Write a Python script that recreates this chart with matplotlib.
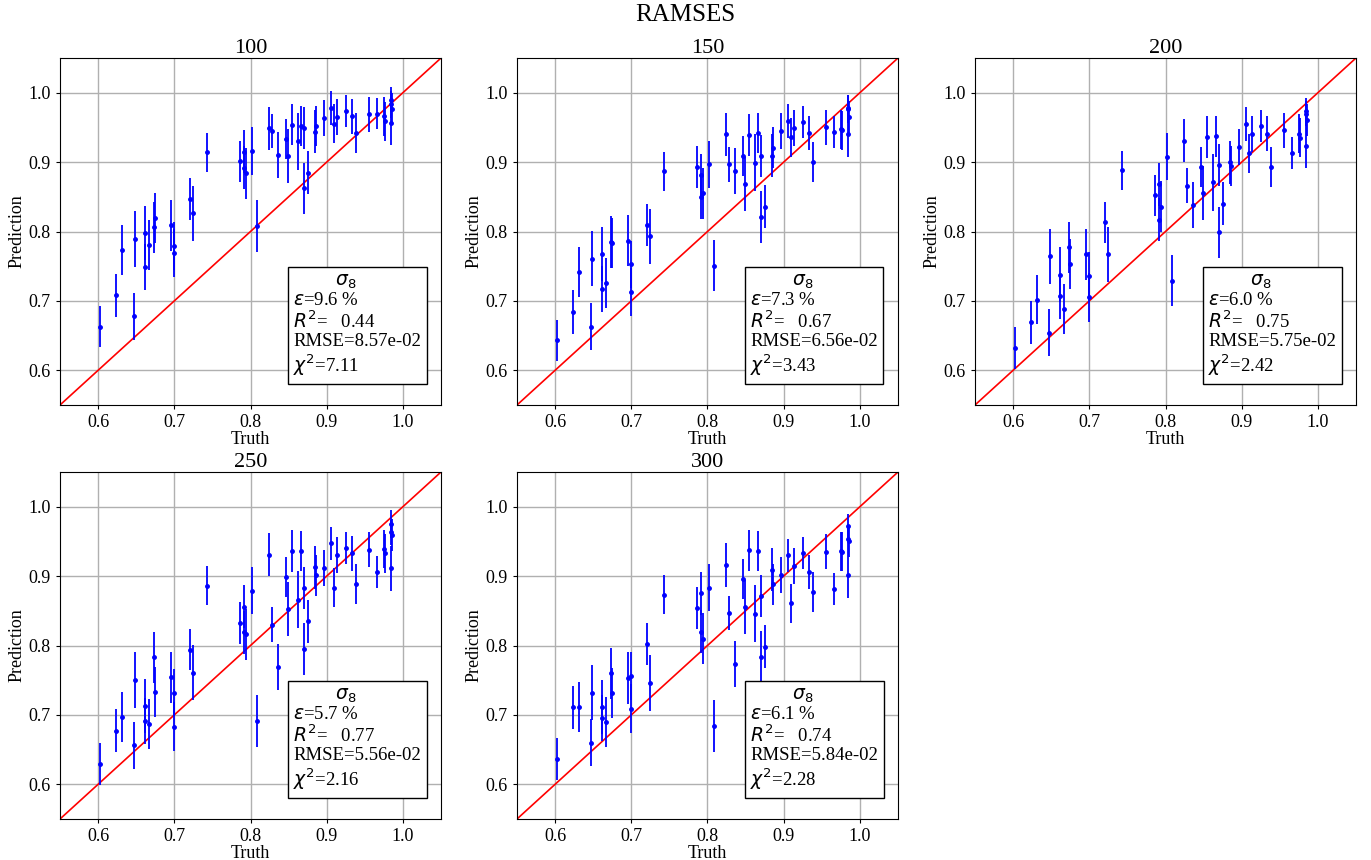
import matplotlib
matplotlib.use("Agg")
import matplotlib.pyplot as plt

plt.rcParams['font.family'] = ['Liberation Serif', 'DejaVu Serif']
plt.rcParams['mathtext.fontset'] = 'dejavusans'

suptitle = "RAMSES"
panel_titles = ["100", "150", "200", "250", "300"]

truth = [0.602, 0.623, 0.631, 0.647, 0.648, 0.662, 0.662, 0.667, 0.673, 0.675,
         0.696, 0.699, 0.700, 0.720, 0.724, 0.743, 0.786, 0.791, 0.791, 0.794,
         0.802, 0.809, 0.824, 0.828, 0.836, 0.847, 0.849, 0.854, 0.862, 0.866,
         0.870, 0.870, 0.875, 0.884, 0.886, 0.897, 0.905, 0.910, 0.913, 0.925,
         0.933, 0.939, 0.956, 0.966, 0.975, 0.976, 0.984, 0.985, 0.985, 0.986]

pred_100 = [0.663, 0.708, 0.774, 0.678, 0.789, 0.798, 0.749, 0.781, 0.806, 0.820,
            0.809, 0.779, 0.769, 0.847, 0.826, 0.914, 0.901, 0.915, 0.892, 0.884,
            0.916, 0.808, 0.949, 0.945, 0.910, 0.933, 0.909, 0.954, 0.930, 0.952,
            0.949, 0.862, 0.885, 0.944, 0.952, 0.964, 0.978, 0.955, 0.965, 0.973,
            0.966, 0.942, 0.969, 0.970, 0.966, 0.959, 0.990, 0.957, 0.983, 0.977]

pred_150 = [0.643, 0.684, 0.742, 0.663, 0.761, 0.768, 0.717, 0.726, 0.785, 0.784,
            0.787, 0.753, 0.713, 0.809, 0.793, 0.887, 0.893, 0.881, 0.849, 0.855,
            0.897, 0.751, 0.940, 0.897, 0.887, 0.909, 0.868, 0.939, 0.899, 0.942,
            0.909, 0.821, 0.836, 0.909, 0.921, 0.945, 0.959, 0.936, 0.949, 0.958,
            0.942, 0.900, 0.950, 0.943, 0.947, 0.946, 0.978, 0.940, 0.977, 0.965]

pred_200 = [0.632, 0.669, 0.702, 0.654, 0.764, 0.738, 0.707, 0.688, 0.777, 0.753,
            0.767, 0.736, 0.705, 0.813, 0.767, 0.888, 0.852, 0.868, 0.817, 0.836,
            0.908, 0.729, 0.931, 0.866, 0.838, 0.893, 0.855, 0.936, 0.871, 0.937,
            0.896, 0.799, 0.840, 0.900, 0.894, 0.922, 0.955, 0.913, 0.941, 0.952,
            0.941, 0.893, 0.946, 0.913, 0.941, 0.935, 0.970, 0.923, 0.973, 0.960]

pred_250 = [0.629, 0.677, 0.697, 0.656, 0.750, 0.713, 0.691, 0.687, 0.783, 0.733,
            0.754, 0.732, 0.683, 0.794, 0.761, 0.886, 0.832, 0.856, 0.819, 0.816,
            0.879, 0.691, 0.931, 0.830, 0.769, 0.899, 0.852, 0.936, 0.866, 0.936,
            0.883, 0.795, 0.835, 0.913, 0.901, 0.912, 0.947, 0.883, 0.931, 0.941,
            0.933, 0.889, 0.938, 0.906, 0.939, 0.933, 0.963, 0.911, 0.975, 0.959]

pred_300 = [0.636, 0.711, 0.712, 0.660, 0.732, 0.712, 0.695, 0.690, 0.760, 0.731,
            0.753, 0.756, 0.709, 0.802, 0.746, 0.873, 0.854, 0.875, 0.820, 0.810,
            0.883, 0.684, 0.916, 0.847, 0.773, 0.896, 0.855, 0.937, 0.846, 0.936,
            0.871, 0.784, 0.798, 0.909, 0.888, 0.901, 0.930, 0.861, 0.914, 0.933,
            0.906, 0.877, 0.935, 0.882, 0.936, 0.935, 0.972, 0.901, 0.954, 0.951]

yerr = [0.030, 0.031, 0.036, 0.034, 0.040, 0.039, 0.033, 0.036, 0.037, 0.036,
        0.037, 0.034, 0.035, 0.030, 0.040, 0.028, 0.030, 0.031, 0.031, 0.037,
        0.034, 0.037, 0.031, 0.025, 0.033, 0.029, 0.039, 0.030, 0.041, 0.029,
        0.030, 0.037, 0.031, 0.031, 0.029, 0.026, 0.024, 0.028, 0.026, 0.023,
        0.025, 0.029, 0.025, 0.023, 0.028, 0.028, 0.018, 0.032, 0.020, 0.023]

eps = ["9.6", "7.3", "6.0", "5.7", "6.1"]
r2 = ["0.44", "0.67", "0.75", "0.77", "0.74"]
rmse = ["8.57e-02", "6.56e-02", "5.75e-02", "5.56e-02", "5.84e-02"]
chi2 = ["7.11", "3.43", "2.42", "2.16", "2.28"]

preds = [pred_100, pred_150, pred_200, pred_250, pred_300]

W, H = 1371, 860
fig = plt.figure(figsize=(W / 100, H / 100), dpi=100)

lefts = [60, 517, 975, 60, 517]
tops = [58, 58, 58, 472, 472]
aw, ah = 381, 347

fig.text(0.5, 1 - 15 / H, suptitle, ha='center', va='center', fontsize=18)

for i in range(5):
    ax = fig.add_axes([lefts[i] / W, 1 - (tops[i] + ah) / H, aw / W, ah / H])
    ax.set_xlim(0.55, 1.05)
    ax.set_ylim(0.55, 1.05)
    ax.set_xticks([0.6, 0.7, 0.8, 0.9, 1.0])
    ax.set_yticks([0.6, 0.7, 0.8, 0.9, 1.0])
    ax.grid(True, color='#b0b0b0', linewidth=1.0)
    ax.set_axisbelow(True)
    ax.axline((0.0, 0.0), slope=1, color='red', linewidth=1.2, zorder=2)
    ax.errorbar(truth, preds[i], yerr=yerr, fmt='o', color='blue', ms=2.5,
                elinewidth=1.3, capsize=0, zorder=3)
    ax.set_title(panel_titles[i], fontsize=16, pad=3)
    ax.set_xlabel("Truth", fontsize=13, labelpad=0)
    ax.set_ylabel("Prediction", fontsize=13, labelpad=2)
    ax.tick_params(labelsize=13, length=3)
    txt = ("         $\\sigma_8$\n$\\epsilon$=" + eps[i] + " %\n$R^2$=   " + r2[i]
           + "\nRMSE=" + rmse[i] + "\n$\\chi^2$=" + chi2[i])
    ax.text(0.612, 0.078, txt, transform=ax.transAxes, fontsize=13.5,
            ha='left', va='bottom', linespacing=1.1,
            bbox=dict(boxstyle='square,pad=0.3', facecolor='white',
                      edgecolor='black', linewidth=1.0), zorder=5)

fig.savefig("out.png", dpi=100)
